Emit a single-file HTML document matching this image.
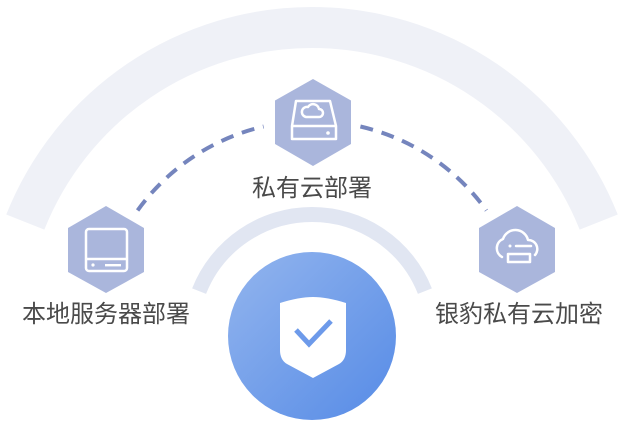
<!DOCTYPE html>
<html><head><meta charset="utf-8"><style>
html,body{margin:0;padding:0;background:#fff;}
svg{display:block;}
text{font-family:"Liberation Sans","Noto Sans CJK SC",sans-serif;fill:#4a4a4a;font-size:24px;}
</style></head><body>
<svg width="622" height="432" viewBox="0 0 622 432" xmlns="http://www.w3.org/2000/svg">
<defs>
<linearGradient id="g" x1="0" y1="0" x2="1" y2="1">
<stop offset="0" stop-color="#93b5ee"/><stop offset="1" stop-color="#568be6"/>
</linearGradient>
</defs>
<path d="M25.3 222.1 A308.5 308.5 0 0 1 598.7 222.1" fill="none" stroke="#eff1f7" stroke-width="41"/>
<path d="M199.1 291.1 A121.5 121.5 0 0 1 424.9 291.1" fill="none" stroke="#e1e6f2" stroke-width="15"/>
<path d="M137.6 210.4 A215 215 0 0 1 263.6 126.5" fill="none" stroke="#7585bd" stroke-width="4" stroke-dasharray="13 9"/>
<path d="M360.4 126.5 A215 215 0 0 1 486.4 210.4" fill="none" stroke="#7585bd" stroke-width="4" stroke-dasharray="13 9"/>
<polygon points="313,79 351,100.5 351,144 313,166 275,144 275,100.5" fill="#aab6dc"/>
<polygon points="106,206 144,228 144,272 106,293 68,272 68,228" fill="#aab6dc"/>
<polygon points="517,206 555,228 555,272 517,293 479,272 479,228" fill="#aab6dc"/>
<g fill="none" stroke="#fff" stroke-width="2.5" stroke-linejoin="round">
<path d="M296 101 H330 L336 126 V139 H292 V126 Z"/>
<path d="M292 126 H336"/>
<path d="M306 117 h13 a4 4 0 0 0 0-8 a6 6 0 0 0-11-2 a4.5 4.5 0 0 0-2 10z"/>
</g>
<circle cx="328" cy="133" r="1.8" fill="#fff"/>
<g fill="none" stroke="#fff" stroke-width="2.5" stroke-linejoin="round">
<rect x="86" y="229" width="41" height="42" rx="3"/>
<path d="M86 259 H127"/>
</g>
<circle cx="93" cy="265" r="1.6" fill="#fff"/>
<rect x="105" y="264" width="16" height="2.4" fill="#fff"/>
<g fill="none" stroke="#fff" stroke-width="2.5" stroke-linejoin="round" stroke-linecap="round">
<path d="M502 257 a10 10 0 0 1 1-18 a13 13 0 0 1 25 1 a9 9 0 0 1 7 15"/>
<rect x="508" y="254" width="22" height="8"/>
<path d="M516 246 H531"/>
</g>
<circle cx="510" cy="246" r="1.5" fill="#fff"/>
<text x="312" y="196" text-anchor="middle">私有云部署</text>
<text x="106" y="322" text-anchor="middle">本地服务器部署</text>
<text x="519" y="322" text-anchor="middle">银豹私有云加密</text>
<circle cx="312" cy="336" r="84" fill="url(#g)"/>
<path d="M280 303 Q299 297 313 297 Q327 297 346 303 V350 Q346 360 339 364 L313 378 L287 364 Q280 360 280 350 Z" fill="#fff"/>
<path d="M296 330 L309 344 L331 321" fill="none" stroke="#6d9aea" stroke-width="5"/>
</svg>
</body></html>
